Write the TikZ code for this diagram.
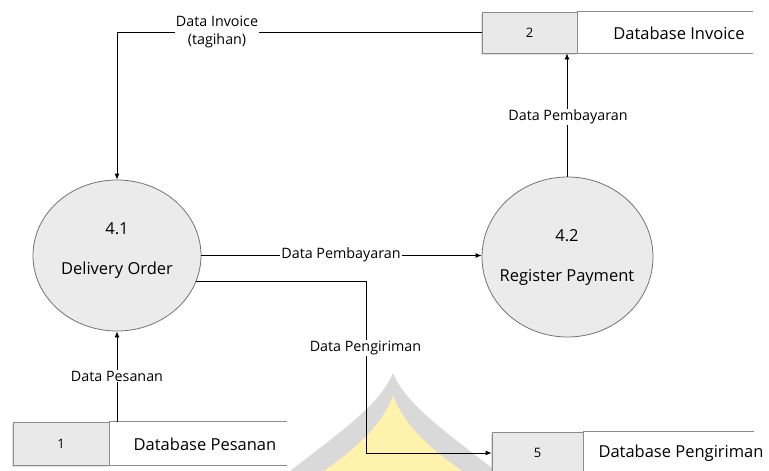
\documentclass[tikz,border=0pt]{standalone}
\usepackage{fontspec}
\setmainfont{Open Sans}
\usetikzlibrary{shapes.geometric,arrows.meta,shadows}
\definecolor{wmgray}{HTML}{D9D9D9}
\definecolor{wmyellow}{HTML}{FFF2AC}
\definecolor{boxfill}{HTML}{E9E9E9}
\definecolor{procfill}{HTML}{EBEBEB}
\begin{document}
\begin{tikzpicture}[x=1pt,y=-1pt,
  proc/.style={ellipse,draw=black!55,line width=0.8pt,fill=procfill,inner sep=0pt},
  storebox/.style={draw=black!45,line width=0.8pt,fill=boxfill,inner sep=0pt,
    drop shadow={shadow xshift=-1pt,shadow yshift=-2pt,opacity=0.25}},
  storeline/.style={draw=black!45,line width=0.8pt},
  flow/.style={draw=black,line width=0.8pt,-{Latex[length=6pt,width=5pt]}},
  lbl/.style={fill=white,inner sep=1pt,font=\fontsize{14.3}{17.5}\selectfont},
  big/.style={font=\fontsize{16.5}{19}\selectfont},
  num/.style={font=\fontsize{13}{15}\selectfont}
]
\path[use as bounding box] (0,0) rectangle (769,471);
\clip (0,0) rectangle (769,471);

% faint emblem in the background
\fill[wmgray] (393,373) .. controls (380,405) and (340,432) .. (285,475)
  -- (501,475) .. controls (446,432) and (406,405) .. cycle;
\fill[wmyellow] (393,395) .. controls (385,420) and (360,447) .. (318,475)
  -- (468,475) .. controls (426,447) and (401,420) .. cycle;

% processes
\node[proc,minimum width=168pt,minimum height=151pt] (p41) at (117,255.5) {};
\node[big,anchor=base] (p41num) at (117,234) {4.1};
\node[big,anchor=base] (p41name) at (117,274) {Delivery Order};

\node[proc,minimum width=171pt,minimum height=160pt] (p42) at (567.5,257) {};
\node[big,anchor=base] (p42num) at (567,241) {4.2};
\node[big,anchor=base] (p42name) at (567,281) {Register Payment};

% data stores
\node[storebox,minimum width=95pt,minimum height=41pt] (s2box) at (529.5,32.5) {};
\draw[storeline] (s2box.north east) -- ++(176,0) coordinate (s2top);
\draw[storeline] (s2box.south east) -- ++(176,0) coordinate (s2bot);
\node[num] (s2num) at (s2box) {2};
\node[big] (s2name) at (679,33) {Database Invoice};

\node[storebox,minimum width=96pt,minimum height=43pt] (s1box) at (61,443.5) {};
\draw[storeline] (s1box.north east) -- ++(178,0) coordinate (s1top);
\draw[storeline] (s1box.south east) -- ++(178,0) coordinate (s1bot);
\node[num] (s1num) at (s1box) {1};
\node[big] (s1name) at (205,444) {Database Pesanan};

\node[storebox,minimum width=91pt,minimum height=42pt] (s5box) at (537.5,453) {};
\draw[storeline] (s5box.north east) -- ++(171,0) coordinate (s5top);
\draw[storeline] (s5box.south east) -- ++(171,0) coordinate (s5bot);
\node[num] (s5num) at (s5box) {5};
\node[big] (s5name) at (681,453) {Database Pengiriman};

% data flows
\draw[flow] (s2box.west) -| (p41.north);
\draw[flow] (p42.north -| 567,0) -- (s2box.south -| 567,0);
\draw[flow] (p41.east) -- (p41.east -| p42.west);
\coordinate (kx) at (366,0);
\draw[flow] (p41.-18.3) -- (p41.-18.3 -| kx) |- (s5box.west);
\draw[flow] (p41.south |- s1box.north) -- (p41.south);

% flow labels
\node[lbl,align=center] (linv) at (217,32) {Data Invoice\\(tagihan)};
\node[lbl] (lpay1) at (568,117) {Data Pembayaran};
\node[lbl] (lpay2) at (341,255) {Data Pembayaran};
\node[lbl] (lship) at (365.5,348) {Data Pengiriman};
\node[lbl] (lord) at (117,376) {Data Pesanan};
\end{tikzpicture}
\end{document}
